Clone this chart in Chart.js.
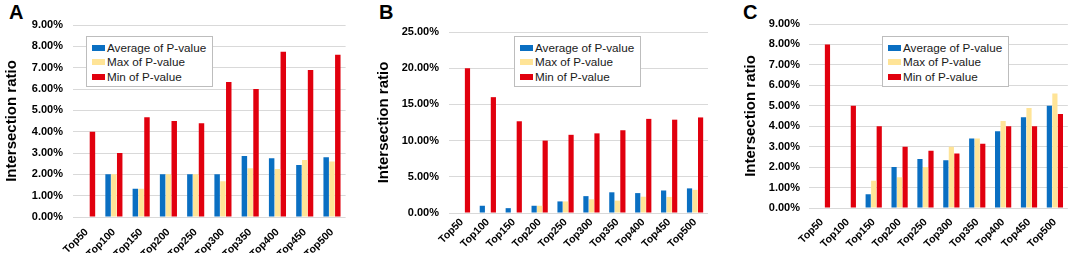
<!DOCTYPE html>
<html><head><meta charset="utf-8">
<script src="https://cdn.jsdelivr.net/npm/chart.js@4"></script>
<style>
body{margin:0;width:1072px;height:253px;background:#fff;overflow:hidden;position:relative;font-family:"Liberation Sans",Arial,sans-serif;}
.wrap{position:absolute;top:0;height:253px;}
.wrap canvas{display:block;}
.letter{position:absolute;font-weight:bold;font-size:20px;line-height:20px;color:#000;}
.legend{position:absolute;border:1px solid #bdbdbd;background:#fff;box-sizing:border-box;width:127px;height:51px;font-size:11.7px;color:#1a1a1a;}
.row{position:absolute;left:0;height:14px;line-height:14px;white-space:nowrap;}
.sw{position:absolute;left:5px;top:4px;width:13px;height:6px;}
.row span{position:absolute;left:20px;top:0;}
</style></head>
<body>
<div class="letter" style="left:9px;top:2px">A</div>
<div class="letter" style="left:379px;top:2px">B</div>
<div class="letter" style="left:743px;top:2px">C</div>
<div class="wrap" style="left:0;width:350px"><canvas id="cA"></canvas></div>
<div class="wrap" style="left:372px;width:338px"><canvas id="cB"></canvas></div>
<div class="wrap" style="left:739px;width:333px"><canvas id="cC"></canvas></div>
<div id="legA" class="legend" style="left:86px;top:36px"></div>
<div id="legB" class="legend" style="left:514px;top:36px"></div>
<div id="legC" class="legend" style="left:882px;top:36px"></div>
<script>
const categories = ['Top50','Top100','Top150','Top200','Top250','Top300','Top350','Top400','Top450','Top500'];
const seriesNames = ['Average of P-value','Max of P-value','Min of P-value'];

const avgA = [0, 2.0, 1.33, 2.0, 2.0, 2.0, 2.86, 2.75, 2.44, 2.8];
const maxA = [0, 2.0, 1.33, 2.0, 2.0, 1.67, 2.29, 2.25, 2.67, 2.6];
const minA = [4.0, 3.0, 4.67, 4.5, 4.4, 6.33, 6.0, 7.75, 6.89, 7.6];

const avgB = [0, 1.0, 0.67, 1.0, 1.6, 2.33, 2.86, 2.75, 3.11, 3.4];
const maxB = [0, 0, 0, 1.0, 1.6, 1.89, 1.71, 2.25, 2.22, 3.2];
const minB = [20.0, 16.0, 12.67, 10.0, 10.8, 11.0, 11.43, 13.0, 12.89, 13.2];

const avgC = [0, 0, 0.67, 2.0, 2.4, 2.33, 3.4, 3.75, 4.44, 5.0];
const maxC = [0, 0, 1.33, 1.5, 2.0, 3.0, 3.4, 4.25, 4.89, 5.6];
const minC = [8.0, 5.0, 4.0, 3.0, 2.8, 2.67, 3.14, 4.0, 4.0, 4.6];

const yMaxA = 9, yStepA = 1;
const yMaxB = 25, yStepB = 5;
const yMaxC = 9, yStepC = 1;

const colors = ['#0a6fc2', '#ffe497', '#e1000e'];

function legend(id){
  const el = document.getElementById(id);
  seriesNames.forEach((n,i)=>{
    const r = document.createElement('div');
    r.className='row';
    r.style.top = (3.5 + i*14.5) + 'px';
    r.innerHTML = '<div class="sw" style="background:'+colors[i]+'"></div><span>'+n+'</span>';
    el.appendChild(r);
  });
}

function makeChart(id, data, yMax, yStep, cfg){
  const ctx = document.getElementById(id);
  return new Chart(ctx, {
    type:'bar',
    data:{
      labels: categories,
      datasets: data.map((d,i)=>({
        label: seriesNames[i], data: d, backgroundColor: colors[i],
        borderWidth:0, categoryPercentage:0.64, barPercentage:0.94
      }))
    },
    options:{
      responsive:true, maintainAspectRatio:false, animation:false,
      devicePixelRatio:1,
      layout:{padding:{top:cfg.top, right:cfg.right, left:0, bottom:0}},
      plugins:{legend:{display:false}, tooltip:{enabled:false}},
      scales:{
        x:{
          grid:{display:false, drawTicks:false},
          border:{display:false},
          ticks:{color:'#000', font:{family:'"Liberation Sans", Arial, sans-serif', weight:'bold', size:10.5}, minRotation:45, maxRotation:45, padding:cfg.xpad, autoSkip:false},
          afterFit(s){ s.height = cfg.xh; }
        },
        y:{
          min:0, max:yMax,
          grid:{color:'#d9d9d9', lineWidth:1, drawTicks:false},
          border:{display:false},
          ticks:{stepSize:yStep, color:'#000', padding:cfg.ypad,
            font:{family:'"Liberation Sans", Arial, sans-serif', weight:'bold', size:11},
            callback:v=>v.toFixed(2)+'%'},
          title:{display:true, text:'Intersection ratio', color:'#000',
            font:{family:'"Liberation Sans", Arial, sans-serif', weight:'bold', size:15},
            padding:{top:cfg.tpad, bottom:0}},
          afterFit(s){ s.width = cfg.yw; }
        }
      }
    }
  });
}

legend('legA'); legend('legB'); legend('legC');
makeChart('cA', [avgA,maxA,minA], yMaxA, yStepA, {top:25, right:2, xh:36, yw:73, ypad:10, tpad:3, xpad:9});
makeChart('cB', [avgB,maxB,minB], yMaxB, yStepB, {top:32, right:2, xh:40, yw:77, ypad:10, tpad:3, xpad:3});
makeChart('cC', [avgC,maxC,minC], yMaxC, yStepC, {top:24, right:4, xh:45, yw:70, ypad:9, tpad:3, xpad:8});
</script>
</body></html>
